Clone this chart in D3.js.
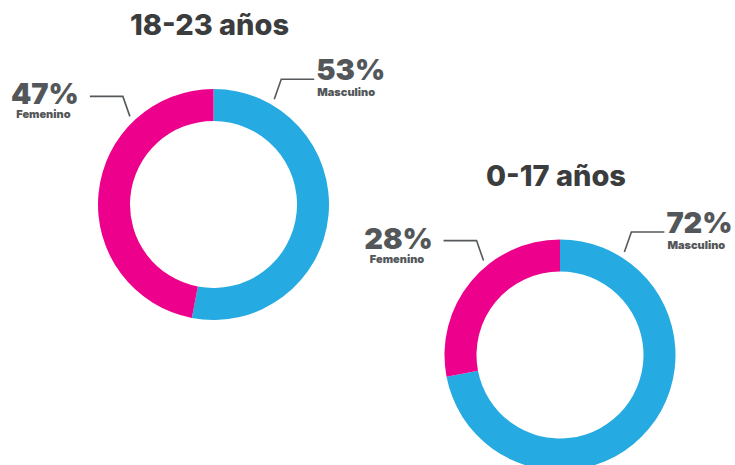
<!DOCTYPE html>
<html>
<head>
<meta charset="utf-8">
<script src="https://cdn.jsdelivr.net/npm/d3@7"></script>
<style>
  html, body { margin: 0; padding: 0; background: #fff; }
  svg text { font-family: Inter, Roboto, sans-serif; }
</style>
</head>
<body>
<svg id="chart" width="735" height="465"></svg>
<script>
// data
const groups = ['18-23 años', '0-17 años'];
const sexes = ['Masculino', 'Femenino'];
const masculino = [53, 72];
const femenino = [47, 28];

const colors = { Masculino: '#25aae1', Femenino: '#ec008c' };
const textColor = '#53575a';

// layout of each donut (center, title baseline, leader angles in degrees)
const layout = [
  { cx: 213.5, cy: 204.5, titleY: 35, angles: { Masculino: 30, Femenino: -43.5 } },
  { cx: 560, cy: 355, titleY: 186, angles: { Masculino: 32, Femenino: -39 } }
];

const outerR = 115.5;
const innerR = 83.5;

const svg = d3.select('#chart');

const pie = d3.pie().sort(null).value((d) => d.value);
const arc = d3.arc().innerRadius(innerR).outerRadius(outerR);

groups.forEach((g, i) => {
  const pos = layout[i];
  const data = [
    { sex: sexes[0], value: masculino[i] },
    { sex: sexes[1], value: femenino[i] }
  ];

  svg.append('text')
    .attr('x', pos.cx - 4)
    .attr('y', pos.titleY)
    .attr('text-anchor', 'middle')
    .style('font-size', '29px')
    .style('font-weight', 800)
    .style('fill', '#3b3c3d')
    .text(g);

  const donut = svg.append('g')
    .attr('transform', 'translate(' + pos.cx + ',' + pos.cy + ')');

  donut.selectAll('path.slice')
    .data(pie(data))
    .enter()
    .append('path')
    .attr('class', 'slice')
    .attr('d', arc)
    .style('fill', (d) => colors[d.data.sex]);

  // leader lines + labels
  data.forEach((d) => {
    const a = pos.angles[d.sex] * Math.PI / 180;
    const r0 = outerR + 6;
    const x0 = Math.sin(a) * r0;
    const y0 = -Math.cos(a) * r0;
    const side = a > 0 ? 1 : -1;
    const x1 = x0 + side * 7;
    const y1 = y0 - 20;
    const x2 = x1 + side * 33;

    donut.append('path')
      .attr('d', d3.line()([[x0, y0], [x1, y1], [x2, y1]]))
      .style('fill', 'none')
      .style('stroke', '#55595b')
      .style('stroke-width', 1.6);

    if (side > 0) {
      donut.append('text')
        .attr('x', x2 + 2)
        .attr('y', y1 + 1)
        .style('font-size', '29px')
        .style('font-weight', 900)
        .style('fill', textColor)
        .text(d.value + '%');
      donut.append('text')
        .attr('x', x2 + 3)
        .attr('y', y1 + 17)
        .style('font-size', '11px')
        .style('font-weight', 900)
        .style('fill', textColor)
        .text(d.sex);
    } else {
      donut.append('text')
        .attr('x', x2 - 45)
        .attr('y', y1 + 8)
        .attr('text-anchor', 'middle')
        .style('font-size', '29px')
        .style('font-weight', 900)
        .style('fill', textColor)
        .text(d.value + '%');
      donut.append('text')
        .attr('x', x2 - 46.5)
        .attr('y', y1 + 22)
        .attr('text-anchor', 'middle')
        .style('font-size', '11px')
        .style('font-weight', 900)
        .style('fill', textColor)
        .text(d.sex);
    }
  });
});
</script>
</body>
</html>
